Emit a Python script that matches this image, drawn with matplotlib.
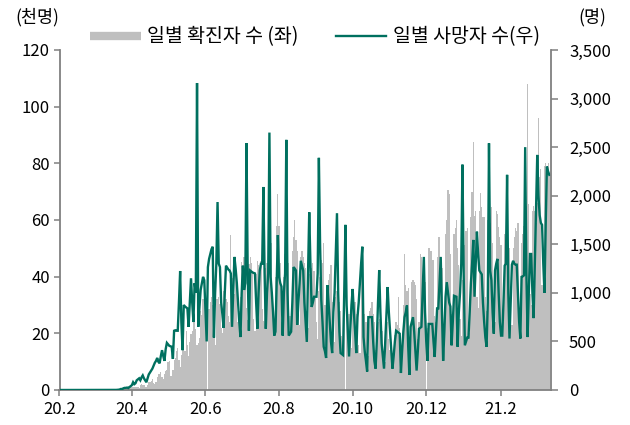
import matplotlib
matplotlib.use('Agg')
import matplotlib.pyplot as plt
import matplotlib.ticker as mticker
from matplotlib.lines import Line2D
import pandas as pd

plt.rcParams['font.family'] = ['Noto Sans CJK KR', 'DejaVu Sans']

start_date = '2020-02-01'

# daily confirmed cases (thousand persons), from 2020-02-01
cases = [
    0, 0, 0, 0, 0, 0, 0, 0, 0, 0, 0, 0, 0, 0, 0, 0, 0, 0, 0, 0, 0,
    0, 0, 0, 0, 0, 0, 0, 0, 0, 0, 0, 0, 0, 0,
    0.01, 0.01, 0.02, 0.02, 0.04, 0.05, 0.05,
    0.07, 0.1, 0.1, 0.2, 0.2, 0.3, 0.3,
    0.4, 0.5, 0.4, 0.5, 0.3, 0.4, 0.7,
    1.1, 0.9, 0.6, 1.1, 1.1, 1.2, 1.1,
    1.2, 1.1, 0.9, 0.8, 1.7, 2.1, 1.9,
    1.8, 1.2, 1.2, 1.9, 2.8, 3.0, 3.3,
    3.8, 2.5, 2.0, 3.0, 4.5, 5.5, 5.5,
    6.3, 4.6, 4.0, 5.5, 6.6, 7.2, 9.9,
    10.2, 5.0, 4.8, 7.2, 10.5, 11.4, 13.9,
    14.9, 10.5, 8.0, 12.5, 15.8, 17.4, 13.9,
    20.8, 15.8, 12.0, 17.0, 19.9, 20.8, 26.4,
    26.9, 21.7, 15.8, 16.5, 18.2, 28.0, 26.4,
    32.0, 33.0, 27.0, 30.0, 0, 28.6, 30.9,
    32.9, 30.0, 18.9, 16.0, 32.1, 32.2, 32.9,
    30.4, 22.0, 20.0, 34.9, 37.3, 32.2, 31.2,
    26.0, 24.0, 54.8, 39.4, 46.0, 34.0, 42.2,
    36.0, 24.0, 28.0, 33.0, 45.3, 42.6, 46.9,
    38.0, 29.0, 24.8, 44.6, 47.0, 45.0, 42.0,
    25.0, 21.0, 41.0, 45.4, 44.0, 39.9, 45.4,
    28.5, 24.5, 41.8, 43.0, 45.0, 58.0, 60.0,
    59.0, 52.0, 26.0, 23.0, 40.0, 57.8, 69.0,
    57.8, 45.0, 24.0, 32.0, 40.0, 48.0, 50.0,
    47.0, 45.0, 26.0, 24.0, 49.0, 54.0, 60.0,
    53.0, 49.0, 30.0, 23.0, 47.0, 49.0, 47.0,
    45.0, 43.0, 28.0, 22.0, 41.0, 45.0, 43.0,
    45.0, 42.0, 33.0, 24.0, 18.0, 35.0, 40.0,
    46.0, 45.0, 52.0, 30.0, 20.0, 36.0, 39.0,
    41.0, 44.0, 31.0, 20.0, 17.0, 33.0, 35.0,
    33.0, 31.0, 28.0, 19.0, 16.0, 31.0, 0,
    33.0, 29.0, 27.0, 18.0, 15.0, 33.0, 35.0,
    31.0, 27.0, 26.0, 16.0, 13.0, 42.0, 27.0,
    26.0, 27.0, 24.0, 15.0, 12.0, 28.0, 29.0,
    31.0, 27.0, 24.0, 14.0, 11.0, 24.0, 25.0,
    23.0, 24.0, 21.0, 12.0, 10.0, 22.0, 24.0,
    18.0, 14.0, 17.0, 12.0, 11.0, 19.5, 24.0,
    23.0, 33.0, 22.0, 13.0, 12.0, 30.0, 48.0,
    37.0, 35.0, 36.0, 18.0, 16.0, 38.0, 39.0,
    38.0, 37.0, 32.0, 18.0, 24.0, 48.0, 47.0,
    37.0, 35.0, 38.0, 0, 22.0, 50.0, 50.0,
    49.0, 46.0, 46.0, 26.0, 24.0, 47.0, 54.0,
    54.0, 44.0, 43.0, 23.0, 24.0, 55.0, 60.0,
    70.5, 69.0, 48.0, 27.0, 25.0, 55.0, 57.0,
    60.0, 50.0, 44.0, 25.0, 19.0, 39.0, 43.0,
    51.0, 56.0, 57.0, 24.0, 20.0, 61.0, 70.0,
    87.5, 61.5, 63.0, 33.0, 29.0, 63.0, 69.5,
    64.6, 61.0, 61.0, 33.0, 28.0, 60.0, 69.0,
    59.0, 64.6, 52.0, 26.0, 24.0, 63.0, 62.0,
    57.5, 54.0, 51.0, 26.0, 24.0, 55.0, 53.0,
    52.0, 48.5, 50.0, 24.0, 23.0, 50.0, 54.0,
    57.0, 56.0, 58.8, 28.0, 25.0, 52.0, 55.0,
    58.0, 62.0, 65.0, 108.0, 65.5, 34.0, 30.0,
    63.0, 65.0, 63.0, 59.0, 66.0, 96.0, 75.0,
    78.0, 37.0, 40.0, 79.0, 80.0, 78.0, 80.0,
    76.0,
]

# daily deaths (persons), from 2020-02-01
deaths = [
    0, 0, 0, 0, 0, 0, 0, 0, 0, 0, 0, 0, 0, 0, 0, 0, 0, 0, 0, 0, 0, 0,
    0, 0, 0, 0, 0, 0, 0, 0, 0, 0, 0, 0, 0, 0, 0, 0, 0, 0, 0, 0, 0, 0,
    0, 0, 0, 1, 2, 3, 6,
    11, 9, 18, 22, 22, 25, 20,
    30, 40, 50, 80, 60, 70, 100,
    110, 120, 100, 130, 150, 120, 100,
    80, 120, 160, 180, 200, 220, 250,
    280, 300, 330, 290, 275, 350, 410,
    350, 300, 420, 485, 470, 455, 450,
    445, 320, 610, 615, 610, 610, 900,
    1225, 700, 410, 875, 860, 850, 840,
    650, 900, 1150, 900, 700, 1100, 1000,
    3160, 650, 850, 1030, 1100, 1165, 1130,
    800, 500, 1265, 1350, 1400, 1450, 1475,
    540, 1000, 1300, 1935, 1300, 1265, 900,
    780, 640, 1000, 1280, 1260, 1240, 1230,
    1200, 650, 1000, 1370, 1250, 1100, 900,
    700, 545, 1000, 1280, 1030, 1100, 2540,
    1200, 610, 1230, 1220, 1210, 1205, 1200,
    900, 630, 1000, 1230, 1300, 1300, 2090,
    1200, 630, 1000, 1200, 2650, 1165, 1000,
    800, 560, 600, 1100, 1595, 1165, 1100,
    1065, 560, 1000, 1200, 2575, 1000, 560,
    580, 600, 900, 1265, 1250, 1230, 670,
    900, 1100, 1330, 1280, 1230, 900, 700,
    495, 1200, 1830, 1300, 855, 900, 960,
    960, 960, 1200, 2390, 1500, 925, 700,
    445, 400, 330, 1080, 900, 700, 500,
    380, 800, 1000, 1400, 1820, 1000, 600,
    380, 370, 360, 1000, 1700, 875, 600,
    345, 600, 875, 1040, 800, 600, 380,
    750, 900, 1100, 1300, 1475, 545, 400,
    300, 190, 750, 750, 750, 750, 500,
    300, 220, 500, 900, 1235, 800, 480,
    350, 220, 500, 800, 1060, 800, 600,
    410, 220, 350, 500, 610, 600, 590,
    580, 175, 400, 600, 750, 800, 870,
    460, 155, 650, 700, 750, 600, 400,
    200, 400, 630, 640, 650, 1000, 1370,
    800, 500, 300, 680, 680, 680, 680,
    500, 340, 600, 840, 840, 1100, 1370,
    800, 300, 600, 960, 1110, 1000, 900,
    860, 460, 700, 970, 965, 960, 445,
    800, 1000, 1300, 2320, 1200, 460, 500,
    540, 540, 800, 1100, 1300, 1545, 960,
    1300, 1630, 1400, 1230, 1210, 1190, 900,
    700, 540, 445, 900, 2540, 1230, 1130,
    800, 580, 1230, 1300, 1350, 1000, 700,
    560, 560, 900, 1280, 1300, 2215, 1000,
    530, 900, 1290, 1330, 1300, 1290, 1290,
    1000, 700, 530, 1165, 1170, 1180, 2500,
    1200, 545, 1000, 1400, 1400, 1000, 740,
    1300, 1850, 2420, 2000, 1800, 1720, 1700,
    1300, 1000, 1700, 2300, 2250, 2215,
]

tick_dates = ['2020-02-01', '2020-04-01', '2020-06-01', '2020-08-01',
              '2020-10-01', '2020-12-01', '2021-02-01']
tick_labels = ['20.2', '20.4', '20.6', '20.8', '20.10', '20.12', '21.2']

left_ticks = [0, 20, 40, 60, 80, 100, 120]
right_ticks = [0, 500, 1000, 1500, 2000, 2500, 3000, 3500]

label_cases = '일별 확진자 수 (좌)'
label_deaths = '일별 사망자 수(우)'

bar_color = '#BFBFBF'
line_color = '#00705F'
spine_color = '#808080'
fs = 12

dates = pd.date_range(start_date, periods=len(cases), freq='D')
death_dates = pd.date_range(start_date, periods=len(deaths), freq='D')

fig = plt.figure(figsize=(6.3, 4.25), dpi=100)
ax = fig.add_axes([59.5 / 630, 1 - 390 / 425, (551 - 59.5) / 630, 340 / 425])
ax.bar(dates, cases, width=1.0, color=bar_color, linewidth=0, align='center',
       antialiased=False)
ax.set_ylim(0, 120)
ax.set_yticks(left_ticks)
x0 = pd.Timestamp(start_date)
ax.set_xlim(x0, x0 + pd.Timedelta(days=407.4))
ax.set_xticks(pd.to_datetime(tick_dates))
ax.set_xticklabels(tick_labels)

ax2 = ax.twinx()
ax2.plot(death_dates, deaths, color=line_color, lw=1.7, solid_joinstyle='miter')
ax2.set_ylim(0, 3500)
ax2.set_yticks(right_ticks)
ax2.yaxis.set_major_formatter(mticker.FuncFormatter(lambda v, p: f'{int(v):,}'))

for a in (ax, ax2):
    a.spines['top'].set_visible(False)
    for s in ('left', 'right', 'bottom'):
        a.spines[s].set_color(spine_color)
        a.spines[s].set_linewidth(1.3)
    a.tick_params(colors=spine_color, labelcolor='black', labelsize=fs,
                  length=4, width=1.1, direction='out')
ax.tick_params(axis='y', pad=3)
ax.tick_params(axis='x', pad=4)
ax2.tick_params(axis='y', pad=8, length=5)
ax.spines['right'].set_visible(False)
ax2.spines['left'].set_visible(False)
ax2.spines['bottom'].set_visible(False)

fig.text(37 / 630, 1 - 17 / 425, '(천명)', ha='center', va='center', fontsize=fs + 0.5)
fig.text(592 / 630, 1 - 17 / 425, '(명)', ha='center', va='center', fontsize=fs + 0.5)

handles = [Line2D([], [], color=bar_color, lw=6, solid_capstyle='butt'),
           Line2D([], [], color=line_color, lw=1.7)]
fig.legend(handles, [label_cases, label_deaths], loc='center left',
           bbox_to_anchor=(90 / 630, 1 - 37 / 425), ncol=2, frameon=False,
           fontsize=14, handlelength=2.6, handletextpad=0.35,
           columnspacing=1.9, borderpad=0, borderaxespad=0)

fig.savefig('out.png', dpi=100)
